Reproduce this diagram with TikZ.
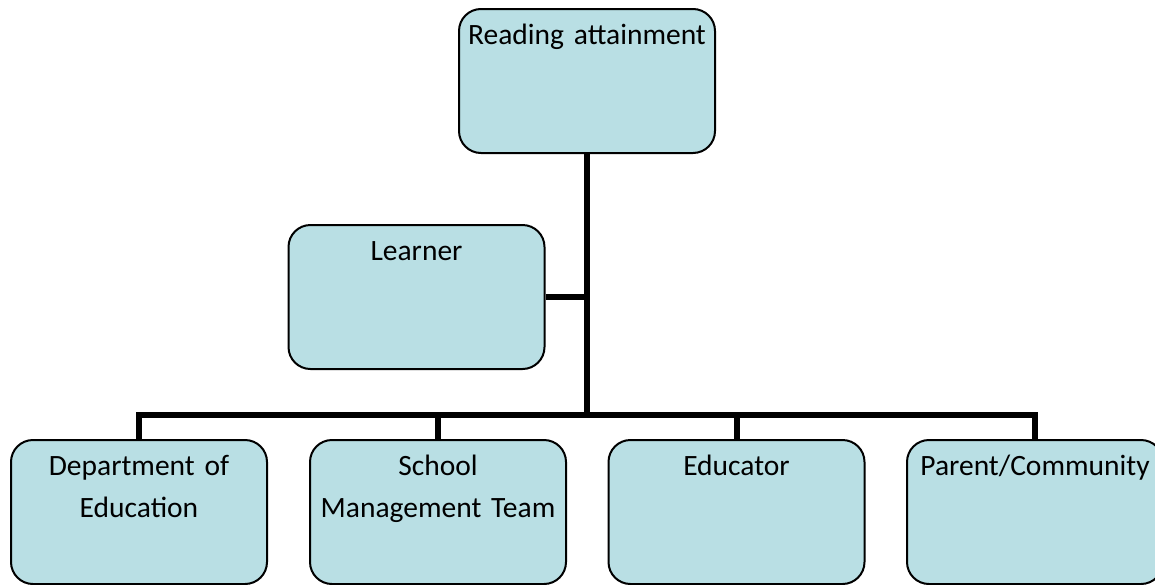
\documentclass[tikz,border=0pt]{standalone}
\usepackage{fontspec}
\setmainfont{Carlito}[WordSpace=0.8]
\usepackage{tikz}
\usetikzlibrary{calc}
\definecolor{boxfill}{RGB}{185,223,228}
\tikzset{
    orgbox/.style = {draw, line width=2pt, fill=boxfill, rounded corners=22pt,
        minimum width=256pt, minimum height=144pt, inner sep=0pt},
    lbl/.style = {anchor=base, yshift=-36pt, inner sep=0pt, text width=254pt,
        align=center, font=\fontsize{29.5}{42}\selectfont},
    conn/.style = {line width=6pt},
}
\begin{document}
\begin{tikzpicture}[x=1pt,y=-1pt]
\useasboundingbox (0,0) rectangle (1155,584);
\clip (0,0) rectangle (1155,584);
\node[orgbox, label={[lbl]north:Reading attainment}] (top) at (587,81) {};
\node[orgbox, label={[lbl]north:Learner}] (learner) at (416.5,297) {};

\node[orgbox, label={[lbl]north:Department of\\Education}] (dept) at (139,512) {};
\node[orgbox, label={[lbl]north:School\\Management Team}] (smt) at (438,512) {};
\node[orgbox, label={[lbl]north:Educator}] (edu) at (736.5,512) {};
\node[orgbox, label={[lbl]north:Parent/Community}] (par) at (1035,512) {};

\coordinate (bus) at (587,415);
\draw[conn] (top.south) -- (bus);
\draw[conn] (learner.east) -- (learner.east -| bus);
\draw[conn] (dept.north) |- (bus);
\draw[conn] (smt.north) |- (bus);
\draw[conn] (edu.north) |- (bus);
\draw[conn] (par.north) |- (bus);
\end{tikzpicture}
\end{document}
